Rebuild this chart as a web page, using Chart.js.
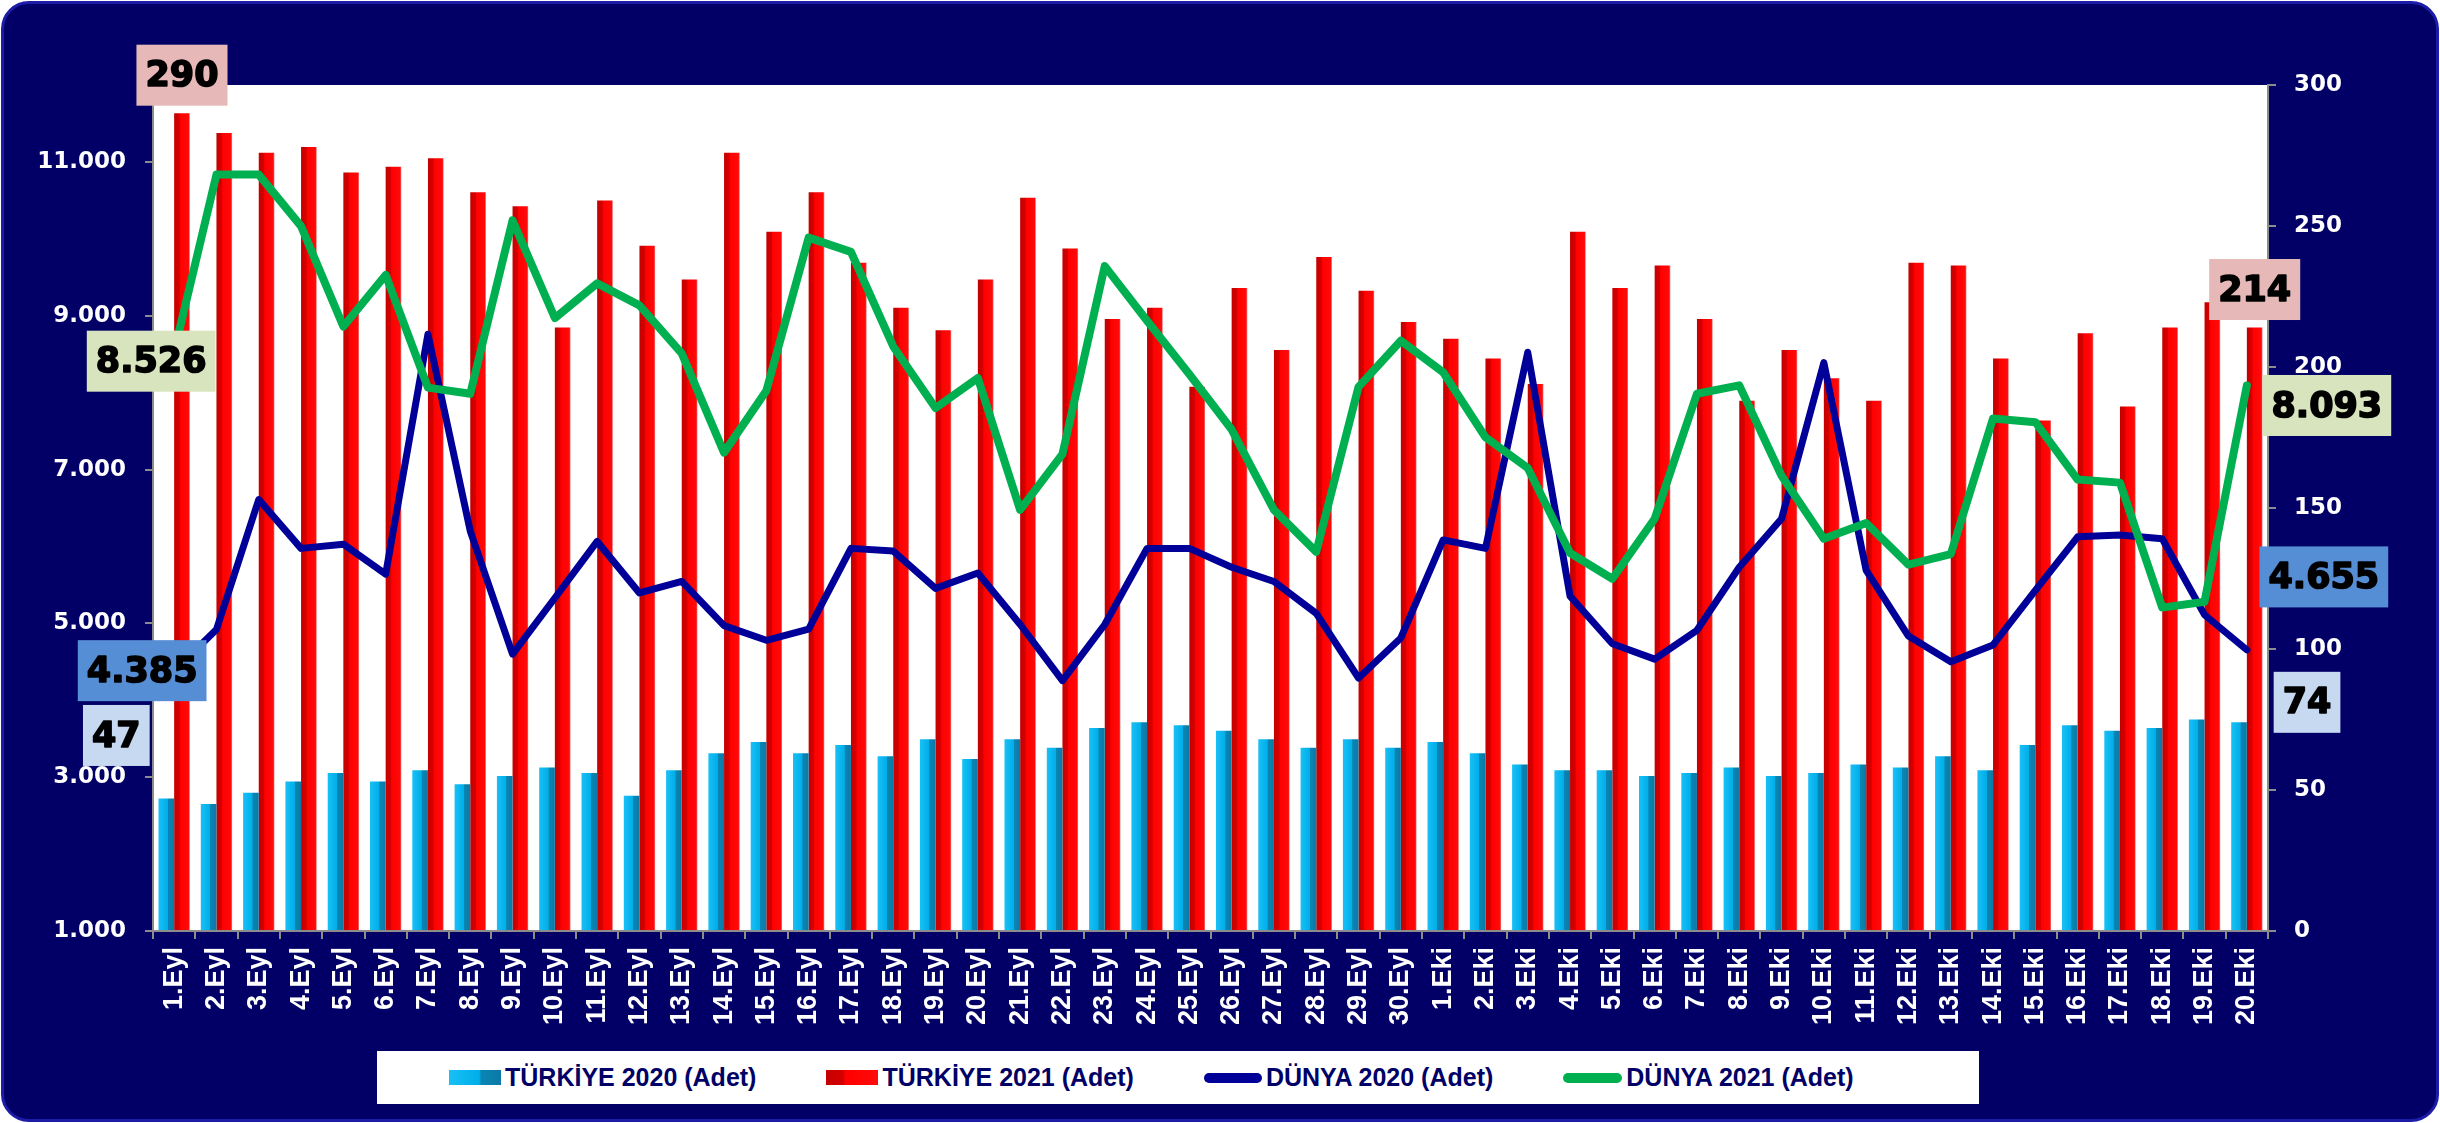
<!DOCTYPE html>
<html lang="tr">
<head>
<meta charset="utf-8">
<title>Türkiye ve Dünya</title>
<script src="https://cdn.jsdelivr.net/npm/chart.js@4.4.1/dist/chart.umd.min.js"></script>
<style>
  html, body { margin: 0; padding: 0; background: #fff; }
  body { width: 2440px; height: 1123px; position: relative; overflow: hidden; }
  #frame {
    position: absolute; left: 1px; top: 1px; width: 2432px; height: 1115px;
    background: #020066; border: 3px solid #1c1ca8; border-radius: 28px;
  }
  #chart { position: absolute; left: 0; top: 0; }
  #legend {
    position: absolute; left: 377px; top: 1051px; width: 1602px; height: 53px;
    background: #fff; box-sizing: border-box; padding-left: 72px;
    display: flex; align-items: center; gap: 70px;
    font: bold 25px "Liberation Sans", Arial, sans-serif; color: #000066;
  }
  .item { display: flex; align-items: center; white-space: nowrap; }
  .sw { margin-right: 4px; }
</style>
</head>
<body>
<div id="frame"></div>
<canvas id="chart" width="2440" height="1123"></canvas>
<div id="legend"></div>

<script>
const labels = [
  '1.Eyl', '2.Eyl', '3.Eyl', '4.Eyl', '5.Eyl', '6.Eyl', '7.Eyl', '8.Eyl', '9.Eyl', '10.Eyl',
  '11.Eyl', '12.Eyl', '13.Eyl', '14.Eyl', '15.Eyl', '16.Eyl', '17.Eyl', '18.Eyl', '19.Eyl', '20.Eyl',
  '21.Eyl', '22.Eyl', '23.Eyl', '24.Eyl', '25.Eyl', '26.Eyl', '27.Eyl', '28.Eyl', '29.Eyl', '30.Eyl',
  '1.Eki', '2.Eki', '3.Eki', '4.Eki', '5.Eki', '6.Eki', '7.Eki', '8.Eki', '9.Eki', '10.Eki',
  '11.Eki', '12.Eki', '13.Eki', '14.Eki', '15.Eki', '16.Eki', '17.Eki', '18.Eki', '19.Eki', '20.Eki'
];

// bars, right axis
const turkiye2020 = [
  47, 45, 49, 53, 56, 53, 57, 52, 55, 58, 56, 48, 57,
  63, 67, 63, 66, 62, 68, 61, 68, 65, 72, 74, 73, 71,
  68, 65, 68, 65, 67, 63, 59, 57, 57, 55, 56, 58,
  55, 56, 59, 58, 62, 57, 66, 73, 71, 72, 75, 74
];
const turkiye2021 = [
  290, 283, 276, 278, 269, 271, 274, 262, 257, 214, 259, 243, 231,
  276, 248, 262, 237, 221, 213, 231, 260, 242, 217, 221, 193, 228,
  206, 239, 227, 216, 210, 203, 194, 248, 228, 236, 217, 188,
  206, 196, 188, 237, 236, 203, 181, 212, 186, 214, 223, 214
];

// lines, left axis
const dunya2020 = [
  4385, 4920, 6610, 5975, 6030, 5640, 8760, 6200, 4600, 5330, 6065, 5395, 5545,
  4970, 4780, 4925, 5975, 5940, 5455, 5655, 4985, 4255, 4985, 5975, 5975, 5730,
  5545, 5130, 4290, 4810, 6085, 5975, 8525, 5355, 4735, 4535, 4910, 5730,
  6360, 8390, 5690, 4835, 4500, 4720, 5430, 6125, 6150, 6100, 5110, 4655
];
const dunya2021 = [
  8526, 10835, 10835, 10165, 8860, 9530, 8065, 7985, 10240, 8970, 9420, 9135, 8510,
  7220, 8025, 10015, 9830, 8600, 7800, 8190, 6475, 7200, 9645, 8935, 8240, 7520,
  6475, 5930, 8075, 8675, 8265, 7420, 7020, 5915, 5580, 6360, 7985, 8095,
  6920, 6100, 6305, 5765, 5900, 7665, 7615, 6870, 6830, 5205, 5280, 8093
];

const leftTicks = [1000, 3000, 5000, 7000, 9000, 11000];
const rightTicks = [0, 50, 100, 150, 200, 250, 300];

const catPct = 0.74;
const axisGrey = '#8c8c8c';
const tickFont = { family: 'DejaVu Sans', weight: 'bold', size: 23 };

// 11000 -> "11.000"
function fmt(v) {
  return String(Math.round(v)).replace(/\B(?=(\d{3})+(?!\d))/g, '.');
}

// two-tone fill so the bars look a bit like the 3D columns
function barFill(cyan) {
  return c => {
    const ch = c.chart;
    if (!ch.chartArea || c.dataIndex === undefined) return cyan ? '#00b0f0' : '#ff0000';
    const xs = ch.scales.x;
    const mid = xs.getPixelForValue(c.dataIndex);
    const half = xs.width / ch.data.labels.length * catPct / 2;
    const x0 = cyan ? mid - half : mid;
    const g = ch.ctx.createLinearGradient(x0, 0, x0 + half, 0);
    if (cyan) {
      g.addColorStop(0, '#19c0f6');
      g.addColorStop(0.58, '#00aee9');
      g.addColorStop(0.62, '#0a86b4');
      g.addColorStop(1, '#0b79a6');
    } else {
      g.addColorStop(0, '#c40000');
      g.addColorStop(0.33, '#d60000');
      g.addColorStop(0.38, '#ff0000');
      g.addColorStop(0.92, '#ff0a0a');
      g.addColorStop(1, '#f08080');
    }
    return g;
  };
}

// value boxes at the first and last day
const edgeLabels = [
  { ds: 1, i: 0, bg: '#e6b9b8', dx: 0, dy: -38 },
  { ds: 0, i: 0, bg: '#c6d9f1', dx: -50, dy: -63 },
  { ds: 2, i: 0, bg: '#558ed5', dx: -32, dy: 0 },
  { ds: 3, i: 0, bg: '#d7e4bd', dx: -23, dy: 9 },
  { ds: 1, i: 49, bg: '#e6b9b8', dx: 0, dy: -38 },
  { ds: 0, i: 49, bg: '#c6d9f1', dx: 68, dy: -20 },
  { ds: 2, i: 49, bg: '#558ed5', dx: 77, dy: -73 },
  { ds: 3, i: 49, bg: '#d7e4bd', dx: 80, dy: 20 }
];

const plotBg = {
  id: 'plotBg',
  beforeDraw(chart) {
    const a = chart.chartArea;
    chart.ctx.save();
    chart.ctx.fillStyle = '#fff';
    chart.ctx.fillRect(a.left, a.top, a.right - a.left, a.bottom - a.top);
    chart.ctx.restore();
  }
};

const valueBoxes = {
  id: 'valueBoxes',
  afterDatasetsDraw(chart) {
    const ctx = chart.ctx;
    ctx.save();
    ctx.font = 'bold 35px "DejaVu Sans"';
    ctx.textAlign = 'center';
    ctx.textBaseline = 'middle';
    ctx.lineJoin = 'round';
    edgeLabels.forEach(l => {
      const el = chart.getDatasetMeta(l.ds).data[l.i];
      const txt = fmt(chart.data.datasets[l.ds].data[l.i]);
      const w = ctx.measureText(txt).width + 18;
      const h = 61;
      const cx = el.x + l.dx, cy = el.y + l.dy;
      ctx.fillStyle = l.bg;
      ctx.fillRect(cx - w / 2, cy - h / 2, w, h);
      // a thin stroke makes it closer to the heavy face of the original
      ctx.strokeStyle = '#000';
      ctx.lineWidth = 1.6;
      ctx.strokeText(txt, cx, cy + 2);
      ctx.fillStyle = '#000';
      ctx.fillText(txt, cx, cy + 2);
    });
    ctx.restore();
  }
};

const chart = new Chart(document.getElementById('chart'), {
  type: 'bar',
  data: {
    labels,
    datasets: [
      {
        type: 'bar', label: 'TÜRKİYE 2020 (Adet)', data: turkiye2020, yAxisID: 'yR',
        backgroundColor: barFill(true), categoryPercentage: catPct, barPercentage: 1, order: 2
      },
      {
        type: 'bar', label: 'TÜRKİYE 2021 (Adet)', data: turkiye2021, yAxisID: 'yR',
        backgroundColor: barFill(false), categoryPercentage: catPct, barPercentage: 1, order: 2
      },
      {
        type: 'line', label: 'DÜNYA 2020 (Adet)', data: dunya2020, yAxisID: 'yL',
        borderColor: '#000099', backgroundColor: '#000099', borderWidth: 7, pointRadius: 0,
        tension: 0, borderJoinStyle: 'round', borderCapStyle: 'round', order: 1
      },
      {
        type: 'line', label: 'DÜNYA 2021 (Adet)', data: dunya2021, yAxisID: 'yL',
        borderColor: '#00b050', backgroundColor: '#00b050', borderWidth: 8, pointRadius: 0,
        tension: 0, borderJoinStyle: 'round', borderCapStyle: 'round', order: 0
      }
    ]
  },
  options: {
    responsive: false,
    animation: false,
    events: [],
    layout: { padding: { top: 85, bottom: 72, left: 0, right: 0 } },
    plugins: {
      legend: { display: false },
      tooltip: { enabled: false }
    },
    scales: {
      x: {
        offset: true,
        grid: { offset: true, drawOnChartArea: false, color: axisGrey, lineWidth: 2, tickLength: 8 },
        border: { color: axisGrey, width: 2 },
        ticks: {
          color: '#fff', autoSkip: false, maxRotation: 90, minRotation: 90, padding: 8,
          font: { family: 'Liberation Sans', weight: 'bold', size: 27 }
        },
        afterFit: s => { s.height = 120; }
      },
      yL: {
        position: 'left', min: 1000, max: 12000,
        afterBuildTicks: s => { s.ticks = leftTicks.map(v => ({ value: v })); },
        grid: { drawOnChartArea: false, color: axisGrey, lineWidth: 2, tickLength: 8 },
        border: { color: axisGrey, width: 2 },
        ticks: { color: '#fff', font: tickFont, padding: 19, callback: v => fmt(v) },
        afterFit: s => { s.width = 153; }
      },
      yR: {
        position: 'right', min: 0, max: 300,
        afterBuildTicks: s => { s.ticks = rightTicks.map(v => ({ value: v })); },
        grid: { drawOnChartArea: false, color: axisGrey, lineWidth: 2, tickLength: 8 },
        border: { color: axisGrey, width: 2 },
        ticks: { color: '#fff', font: tickFont, padding: 18, callback: v => fmt(v) },
        afterFit: s => { s.width = 172; }
      }
    }
  },
  plugins: [plotBg, valueBoxes]
});

// legend as a white strip under the axis, like the original
const swatches = [
  'width:52px;height:15px;background:linear-gradient(to right,#19c0f6 0%,#00aee9 58%,#0a86b4 62%,#0b79a6 100%)',
  'width:52px;height:15px;background:linear-gradient(to right,#c40000 0%,#d60000 33%,#ff0000 38%,#ff0a0a 100%)',
  'width:58px;height:10px;border-radius:5px;background:#000099',
  'width:59px;height:10px;border-radius:5px;background:#00b050'
];
const legendBox = document.getElementById('legend');
chart.data.datasets.forEach((ds, i) => {
  const item = document.createElement('div');
  item.className = 'item';
  const sw = document.createElement('span');
  sw.className = 'sw';
  sw.style.cssText = swatches[i];
  const txt = document.createElement('span');
  txt.textContent = ds.label;
  item.appendChild(sw);
  item.appendChild(txt);
  legendBox.appendChild(item);
});
</script>
</body>
</html>
